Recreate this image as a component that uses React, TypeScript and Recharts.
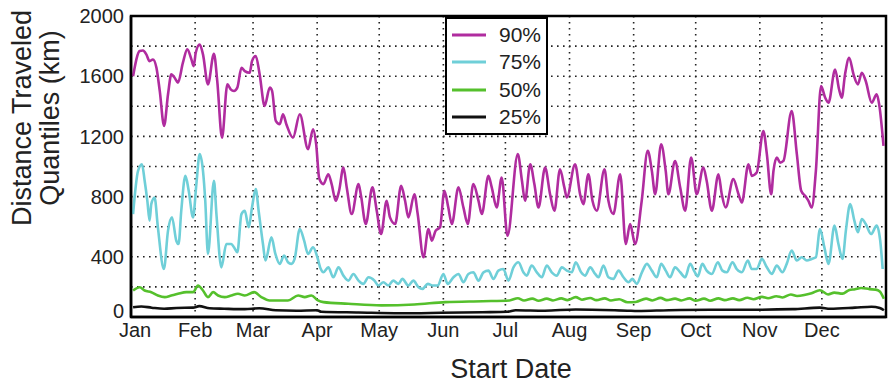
import React from 'react';
import {
  LineChart,
  Line,
  XAxis,
  YAxis,
  CartesianGrid,
  Legend,
  ReferenceArea,
} from 'recharts';

// Day-of-year where each month begins, with its label
const monthStarts = [0, 31, 59, 90, 120, 151, 181, 212, 243, 273, 304, 334];
const monthNames = ['Jan', 'Feb', 'Mar', 'Apr', 'May', 'Jun', 'Jul', 'Aug', 'Sep', 'Oct', 'Nov', 'Dec'];

// Y ticks every 200 km (labels only on multiples of 400)
const kmTicks = [0, 200, 400, 600, 800, 1000, 1200, 1400, 1600, 1800, 2000];

// [day of year, km] samples for each quantile
const q90: [number, number][] = [
  [1, 1600], [4.2, 1767], [5.8, 1771], [7.4, 1745], [9, 1700], [10.6, 1711], [12.3, 1656], [13.9, 1502],
  [16, 1270], [17.9, 1480], [19.5, 1612], [21.1, 1590], [22.7, 1557], [25.1, 1690], [27.2, 1778], [29.2, 1712],
  [30.3, 1667], [31.3, 1756], [33.2, 1811], [34.8, 1745], [37.2, 1546], [40.1, 1749], [41.7, 1568], [44, 1192],
  [46.6, 1546], [48.2, 1513], [49.8, 1502], [51.4, 1524], [53.4, 1656], [55, 1634], [57.4, 1623], [58.5, 1700],
  [60.3, 1734], [62.2, 1612], [64.6, 1402], [67.1, 1524], [68.2, 1502], [70, 1303], [71.9, 1281], [73.5, 1347],
  [75.1, 1281], [78.3, 1192], [81.6, 1347], [85.6, 1115], [88, 1248], [89.5, 1150], [91, 920], [93, 883],
  [95.4, 949], [97, 883], [99, 772], [100.6, 839], [102.7, 993], [104.3, 861], [106.7, 684], [110, 883],
  [111.2, 805], [113.5, 618], [116.7, 861], [118.8, 706], [120.9, 551], [123.6, 772], [125.2, 662], [127.7, 618],
  [130.6, 872], [132.5, 772], [134.1, 662], [137, 816], [138.6, 684], [141.4, 397], [143.8, 585], [145.4, 507],
  [147.3, 574], [149.4, 596], [151.5, 839], [153.4, 728], [155.1, 618], [158.3, 861], [160.7, 728], [162.8, 618],
  [165.5, 883], [168, 772], [169.6, 684], [172.8, 938], [174.4, 861], [176.8, 728], [179.2, 927], [182, 540],
  [187, 1082], [189, 905], [190.5, 772], [193, 1015], [195, 883], [197, 728], [200.2, 993], [202.6, 816],
  [204.7, 706], [207.4, 982], [209.5, 861], [210.7, 794], [214.7, 1015], [217.1, 816], [218.7, 750], [221.1, 949],
  [223.1, 772], [225.2, 706], [228.9, 982], [230.8, 772], [233.2, 684], [236.5, 949], [239.2, 485], [241.3, 618],
  [243.7, 485], [246.9, 772], [249.8, 1104], [251.8, 971], [253.4, 816], [256.3, 1148], [258.5, 971], [259.8, 816],
  [263, 1037], [265.5, 861], [267.9, 706], [270.8, 1060], [273.5, 816], [276.7, 993], [278.3, 905], [280.8, 706],
  [284, 949], [285.6, 816], [287.5, 728], [291.2, 916], [293.7, 816], [295.3, 761], [298.5, 1015], [300.1, 938],
  [302.5, 960], [305.7, 1236], [307.4, 1082], [309.5, 816], [310.6, 971], [312.2, 1060], [313.8, 1026], [315.4, 1037],
  [319.4, 1369], [321.9, 1082], [324, 839], [325.9, 805], [327.5, 772], [329.1, 728], [331.1, 971], [333.6, 1535],
  [335.6, 1457], [337.2, 1424], [340.4, 1645], [342.3, 1513], [343.6, 1457], [345.2, 1612], [347.2, 1723], [349.3, 1612],
  [351.4, 1546], [353.3, 1623], [355.2, 1568], [358.1, 1424], [360.5, 1479], [361.7, 1413], [363.8, 1137],
];

const q75: [number, number][] = [
  [1, 684], [3.4, 971], [5.3, 1015], [6.6, 905], [7.9, 772], [9, 640], [9.8, 750], [11.4, 794],
  [13, 596], [15.9, 319], [17.9, 574], [19.8, 662], [21.9, 507], [23, 485], [24.3, 706], [26.3, 938],
  [27.9, 839], [30, 662], [31.6, 883], [33.2, 1082], [34.8, 971], [35.9, 772], [37.2, 419], [40.1, 905],
  [41.3, 684], [43.7, 330], [46.1, 485], [48.5, 485], [49.8, 463], [51.4, 430], [53.4, 684], [55, 706],
  [56.9, 596], [58.5, 728], [60.3, 850], [61.7, 706], [63.8, 485], [65, 375], [67.9, 529], [69.8, 419],
  [71.9, 353], [74, 408], [75.9, 364], [77.5, 353], [79.1, 386], [81.6, 585], [83.7, 507], [85.6, 419],
  [88, 463], [90.1, 397], [91.7, 320], [93, 297], [95.4, 330], [97.8, 264], [100.3, 330], [102.7, 275],
  [105.1, 242], [107.5, 286], [110, 242], [112.3, 220], [114.8, 264], [117.7, 242], [119.6, 209], [122, 231],
  [124.4, 209], [126.8, 242], [129.3, 220], [131.2, 253], [134.1, 209], [136.5, 242], [139, 198], [140.9, 187],
  [143.5, 220], [145.7, 209], [148.3, 209], [151, 286], [153.1, 220], [155.9, 264], [158.3, 286], [160.7, 231],
  [163.1, 286], [165.5, 297], [168, 242], [170.4, 297], [172.8, 308], [175.2, 253], [177.6, 308], [180, 319],
  [182.5, 242], [184.9, 330], [187.3, 364], [189.7, 297], [191.3, 275], [193.7, 342], [196.2, 297], [198.6, 264],
  [201, 342], [203.4, 297], [205.8, 275], [208.3, 330], [210.7, 308], [213.1, 297], [215, 364], [217.6, 297],
  [219.5, 275], [222, 330], [224.4, 286], [226, 264], [228.4, 342], [230.8, 264], [233.2, 253], [235.7, 308],
  [238.1, 264], [240.5, 231], [242.4, 253], [244.5, 220], [247, 297], [249.4, 353], [251.8, 308], [254.2, 264],
  [256.3, 353], [258.5, 308], [260.6, 264], [263, 330], [265.5, 297], [267.9, 264], [270.3, 353], [272.5, 300],
  [274, 270], [276.2, 353], [278.3, 308], [280.8, 286], [283.7, 364], [285.9, 308], [288, 297], [290.8, 364],
  [292.8, 319], [295.3, 297], [298.2, 375], [300.1, 319], [302.5, 319], [305, 386], [307.4, 330], [309.8, 286],
  [312.2, 342], [314.9, 297], [317, 353], [319.4, 441], [321.9, 375], [324.3, 397], [326.7, 375], [329.1, 386],
  [331.1, 397], [333.1, 585], [335.2, 463], [337.2, 353], [340.1, 607], [342, 485], [344, 386], [345.6, 574],
  [347.7, 750], [349.7, 640], [351.4, 563], [353.3, 651], [355.2, 618], [357.8, 551], [360.5, 607], [362.2, 507],
  [363.4, 319],
];

const q50: [number, number][] = [
  [1, 176], [4.2, 198], [6.6, 176], [9.8, 165], [13, 143], [16.3, 132], [19.5, 143], [22.7, 154],
  [26.8, 165], [30, 165], [32.4, 209], [34.8, 176], [37.2, 132], [39.7, 165], [42.1, 143], [45.3, 132],
  [48.5, 143], [51.7, 154], [55, 143], [59.5, 165], [63, 132], [67, 110], [71.1, 110], [75.9, 110],
  [80.8, 143], [84, 132], [87.2, 143], [90.4, 110], [93, 99], [105, 88], [121, 77], [137, 83],
  [152, 99], [170, 105], [183, 110], [187, 125], [190, 110], [194, 122], [197, 108], [201, 122],
  [204, 110], [208, 124], [211, 112], [215, 132], [218, 115], [222, 126], [225, 112], [229, 124],
  [232, 110], [236, 118], [240, 98], [244, 100], [249, 122], [252, 110], [256, 127], [259, 112],
  [263, 122], [266, 110], [270, 124], [273, 108], [277, 122], [280, 108], [284, 124], [287, 112],
  [291, 124], [294, 112], [298, 128], [301, 118], [305, 134], [308, 125], [312, 138], [315, 130],
  [319, 150], [322, 140], [326, 148], [329, 158], [333, 178], [337, 150], [340, 162], [344, 155],
  [347, 178], [350, 185], [353, 193], [357, 185], [360, 182], [362, 170], [364, 121],
];

const q25: [number, number][] = [
  [1, 65], [5, 70], [10, 62], [16, 55], [22, 60], [30, 62], [33, 72], [38, 58],
  [45, 55], [55, 52], [62, 58], [70, 45], [80, 42], [90, 45], [92, 35], [110, 30],
  [130, 25], [150, 28], [170, 32], [182, 35], [186, 45], [200, 42], [215, 50], [240, 42],
  [245, 40], [260, 45], [280, 48], [300, 48], [320, 52], [333, 62], [338, 55], [350, 62],
  [358, 68], [362, 60], [364, 45],
];

const seriesNames = ['90%', '75%', '50%', '25%'];
const seriesColors = ['#b02c9f', '#6fcfd8', '#55c02c', '#111111'];
const seriesData = [q90, q75, q50, q25];

const toPoints = (pairs: [number, number][]) => pairs.map(([day, km]) => ({ day, km }));

const FONT = '"Liberation Sans", Arial, Helvetica, sans-serif';
const TEXT = '#222';

const LegendBox = (props: any) => {
  const items = [...(props.payload || [])].sort(
    (a: any, b: any) => seriesNames.indexOf(a.value) - seriesNames.indexOf(b.value)
  );
  return (
    <div
      style={{
        border: '2px solid #000',
        background: '#fff',
        width: 99,
        padding: '2px 0',
        fontFamily: FONT,
        fontSize: 21,
        color: TEXT,
      }}
    >
      {items.map((entry: any) => (
        <div key={entry.value} style={{ display: 'flex', alignItems: 'center', height: 27.5 }}>
          <svg width={52} height={6} style={{ display: 'block' }}>
            <line x1={5} x2={39} y1={3} y2={3} stroke={entry.color} strokeWidth={3} />
          </svg>
          <span>{entry.value}</span>
        </div>
      ))}
    </div>
  );
};

// Y tick: the zero label sits a little above the baseline, clear of "Jan"
const KmTick = (props: any) => {
  const { x, y, payload } = props;
  const v = payload.value as number;
  if (v % 400 !== 0) return null;
  return (
    <text x={x} y={v === 0 ? y - 6 : y} dy="0.355em" textAnchor="end" fill={TEXT} fontSize={20} fontFamily={FONT}>
      {v}
    </text>
  );
};

// X tick: month names centred on month starts; January nudged inside the frame
const MonthTick = (props: any) => {
  const { x, y, payload, index } = props;
  const d = payload.value as number;
  return (
    <text x={index === 0 ? x + 4 : x} y={y} dy="0.71em" textAnchor="middle" fill={TEXT} fontSize={20} fontFamily={FONT}>
      {monthNames[monthStarts.indexOf(d)] ?? ''}
    </text>
  );
};

export default function App() {
  return (
    <div style={{ position: 'relative', width: 889, height: 388, background: '#fff', fontFamily: FONT }}>
      <style>{'body{margin:0;background:#fff;}'}</style>
      <LineChart width={889} height={388} margin={{ top: 16, right: 3, bottom: 0, left: 0 }}>
        <CartesianGrid stroke="#222" strokeWidth={1.6} strokeDasharray="1.6 4.4" />
        <XAxis
          dataKey="day"
          type="number"
          domain={[0, 365]}
          ticks={monthStarts}
          interval={0}
          axisLine={{ stroke: '#000', strokeWidth: 2.5 }}
          tickLine={false}
          tickSize={0}
          tickMargin={6}
          height={71}
          allowDataOverflow
          tick={<MonthTick />}
        />
        <YAxis
          type="number"
          domain={[0, 2000]}
          ticks={kmTicks}
          interval={0}
          axisLine={{ stroke: '#000', strokeWidth: 2.5 }}
          tickLine={false}
          tickSize={0}
          tickMargin={7}
          width={131}
          allowDataOverflow
          tick={<KmTick />}
        />
        <ReferenceArea x1={0} x2={365} y1={0} y2={2000} fill="none" stroke="#000" strokeWidth={2.5} />
        {seriesData.map((pairs, i) => (
          <Line
            key={seriesNames[i]}
            data={toPoints(pairs)}
            dataKey="km"
            name={seriesNames[i]}
            type="monotone"
            stroke={seriesColors[i]}
            strokeWidth={2.6}
            dot={false}
            isAnimationActive={false}
          />
        ))}
        <Legend
          layout="vertical"
          align="center"
          verticalAlign="middle"
          content={<LegendBox />}
          wrapperStyle={{ top: 17, left: 445, width: 103, bottom: 'auto', right: 'auto' }}
        />
      </LineChart>
      <div
        style={{
          position: 'absolute',
          left: 36,
          top: 118,
          transform: 'translate(-50%, -50%) rotate(-90deg)',
          whiteSpace: 'nowrap',
          textAlign: 'center',
          fontSize: 27,
          lineHeight: '28px',
          color: TEXT,
        }}
      >
        Distance Traveled
        <br />
        Quantiles (km)
      </div>
      <div
        style={{
          position: 'absolute',
          left: 511,
          top: 369,
          transform: 'translate(-50%, -50%)',
          whiteSpace: 'nowrap',
          fontSize: 27,
          color: TEXT,
        }}
      >
        Start Date
      </div>
    </div>
  );
}
